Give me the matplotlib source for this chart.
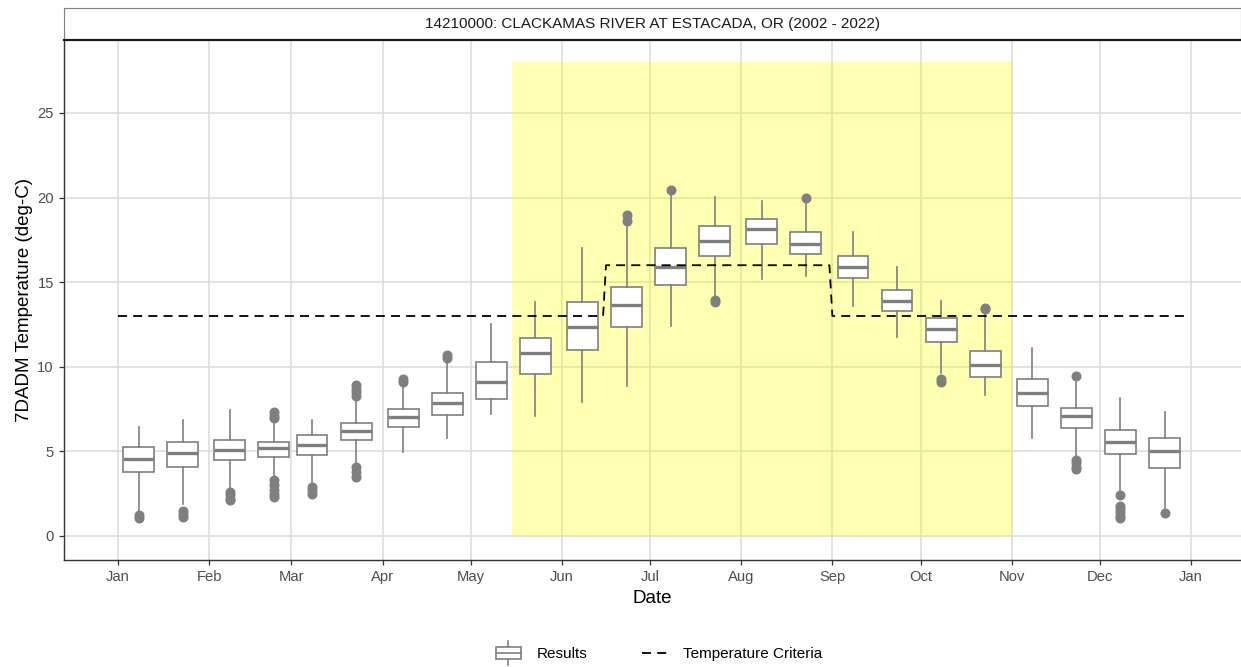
import matplotlib
matplotlib.use("Agg")
import matplotlib.pyplot as plt
import matplotlib.dates as mdates
from matplotlib.patches import Rectangle
from matplotlib.lines import Line2D
from matplotlib.legend_handler import HandlerBase
import numpy as np
import pandas as pd

plt.rcParams['font.family'] = ['Liberation Sans', 'DejaVu Sans']

# ---------------- data ----------------
title = "14210000: CLACKAMAS RIVER AT ESTACADA, OR (2002 - 2022)"
box_dates = ["2022-01-08", "2022-01-23", "2022-02-08", "2022-02-23", "2022-03-08", "2022-03-23",
             "2022-04-08", "2022-04-23", "2022-05-08", "2022-05-23", "2022-06-08", "2022-06-23",
             "2022-07-08", "2022-07-23", "2022-08-08", "2022-08-23", "2022-09-08", "2022-09-23",
             "2022-10-08", "2022-10-23", "2022-11-08", "2022-11-23", "2022-12-08", "2022-12-23"]
whis_hi = [6.46, 6.86, 7.45, 6.80, 6.86, 8.00, 8.85, 10.2, 12.53, 13.85, 17.04, 18.38,
           20.15, 20.05, 19.82, 19.66, 17.95, 15.92, 13.91, 13.16, 11.13, 9.12, 8.14, 7.35]
q3 = [5.28, 5.58, 5.67, 5.58, 5.97, 6.66, 7.49, 8.47, 10.26, 11.68, 13.85, 14.74,
      17.04, 18.34, 18.74, 17.95, 16.55, 14.52, 12.87, 10.95, 9.28, 7.58, 6.26, 5.77]
median = [4.57, 4.89, 5.08, 5.18, 5.38, 6.21, 7.02, 7.88, 9.08, 10.80, 12.37, 13.65,
          15.92, 17.45, 18.14, 17.26, 15.92, 13.89, 12.23, 10.09, 8.47, 7.11, 5.58, 5.02]
q1 = [3.76, 4.06, 4.47, 4.67, 4.77, 5.65, 6.46, 7.17, 8.08, 9.57, 10.97, 12.37,
      14.83, 16.57, 17.26, 16.65, 15.27, 13.32, 11.47, 9.38, 7.68, 6.37, 4.85, 4.02]
whis_lo = [1.50, 1.90, 2.80, 3.50, 3.10, 4.30, 4.98, 5.77, 7.20, 7.10, 7.90, 8.89,
           12.41, 14.05, 15.19, 15.37, 13.59, 11.78, 9.61, 8.33, 5.77, 4.69, 2.62, 1.63]
outliers = [[1.25, 1.05], [1.5, 1.3, 1.1], [2.6, 2.4, 2.2, 2.1],
            [7.3, 7.1, 6.95, 3.3, 3.0, 2.7, 2.5, 2.3], [2.9, 2.7, 2.5],
            [8.9, 8.7, 8.5, 8.3, 4.1, 3.8, 3.5], [9.3, 9.1], [10.7, 10.5], [], [], [],
            [18.97, 18.6], [20.45], [13.95, 13.8], [], [19.96], [], [],
            [9.3, 9.1], [13.5, 13.4], [], [9.46, 4.5, 4.3, 4.1, 3.95],
            [2.42, 1.8, 1.6, 1.4, 1.2, 1.05], [1.34]]

crit_dates = ["2022-01-01", "2022-06-15", "2022-06-16", "2022-08-31", "2022-09-01", "2022-12-31"]
crit_values = [13, 13, 16, 16, 13, 13]

season_start = "2022-05-15"
season_end = "2022-11-01"
season_top = 28

# ---------------- figure ----------------
W, H = 1241, 667
fig = plt.figure(figsize=(W / 100, H / 100), dpi=100)
ax = fig.add_axes([64 / W, 1 - 560 / H, (1241 - 64) / W, 520 / H])

grey50 = "#7F7F7F"
grid_c = "#DADADA"
dash = (0, (5, 3.4))

pos = mdates.date2num(pd.to_datetime(box_dates))
stats = []
for i in range(len(pos)):
    stats.append(dict(med=median[i], q1=q1[i], q3=q3[i], whislo=whis_lo[i],
                      whishi=whis_hi[i], fliers=np.array(outliers[i])))

ax.bxp(stats, positions=pos, widths=10.5, showcaps=False, patch_artist=True,
       boxprops=dict(facecolor="white", edgecolor=grey50, linewidth=1.2),
       medianprops=dict(color=grey50, linewidth=2.4, solid_capstyle="butt"),
       whiskerprops=dict(color=grey50, linewidth=1.2),
       flierprops=dict(marker="o", markerfacecolor=grey50, markeredgecolor=grey50,
                       markersize=6.2), manage_ticks=False, zorder=3)

cd = pd.to_datetime(crit_dates)
ax.plot(cd, crit_values, color="black", linestyle=dash, linewidth=1.3, zorder=4)

s0 = mdates.date2num(pd.Timestamp(season_start))
s1 = mdates.date2num(pd.Timestamp(season_end))
ax.add_patch(Rectangle((s0, 0), s1 - s0, season_top, facecolor="yellow", alpha=0.3,
                       edgecolor="none", zorder=2))

x0 = mdates.date2num(pd.Timestamp("2022-01-01"))
ax.set_xlim(x0 - 18.37, x0 + 382.0)
ax.set_ylim(-1.42, 29.31)

ax.xaxis.set_major_locator(mdates.MonthLocator())
ax.xaxis.set_major_formatter(mdates.DateFormatter("%b"))
ax.set_yticks([0, 5, 10, 15, 20, 25])

ax.grid(True, color=grid_c, linewidth=1.1, zorder=1)
ax.set_axisbelow(True)
for s in ["top", "right"]:
    ax.spines[s].set_visible(False)
for s in ["left", "bottom"]:
    ax.spines[s].set_color("#333333")
    ax.spines[s].set_linewidth(1.0)
ax.tick_params(axis="both", colors="#333333", labelcolor="#4D4D4D", labelsize=10.6,
               length=3.8, width=0.9, direction="out", pad=3.5)

ax.set_xlabel("Date", fontsize=13.5, color="black", labelpad=4)
ax.set_ylabel("7DADM Temperature (deg-C)", fontsize=13.5, color="black", labelpad=3)

# strip
sax = fig.add_axes([64 / W, 1 - 40 / H, (1241 - 64) / W, 32 / H])
sax.set_xticks([])
sax.set_yticks([])
sax.set_facecolor("white")
for s in ["top", "left", "right"]:
    sax.spines[s].set_color(grey50)
    sax.spines[s].set_linewidth(0.8)
sax.spines["bottom"].set_color("#1A1A1A")
sax.spines["bottom"].set_linewidth(1.6)
sax.text(0.5, 0.5, title, ha="center", va="center", fontsize=11, color="#1A1A1A",
         transform=sax.transAxes)


# legend
class BoxHandle:
    pass


class BoxHandler(HandlerBase):
    def create_artists(self, legend, orig_handle, xdescent, ydescent, width, height,
                       fontsize, trans):
        cx = width / 2 - xdescent
        bw = width * 0.95
        bh = height * 1.1
        cy = -ydescent + height / 2
        by0 = cy - bh / 2
        rect = Rectangle((cx - bw / 2, by0), bw, bh, facecolor="white", edgecolor=grey50,
                         linewidth=1.2, transform=trans)
        med = Line2D([cx - bw / 2, cx + bw / 2], [cy, cy], color=grey50,
                     linewidth=1.2, transform=trans)
        w1 = Line2D([cx, cx], [by0 + bh, by0 + bh + height * 0.6], color=grey50,
                    linewidth=1.2, transform=trans)
        w2 = Line2D([cx, cx], [by0, by0 - height * 0.6], color=grey50, linewidth=1.2,
                    transform=trans)
        return [w1, w2, rect, med]


bh_ = BoxHandle()
lh = Line2D([], [], color="black", linestyle=dash, linewidth=1.3)
fig.legend([bh_, lh], ["Results", "Temperature Criteria"],
           handler_map={BoxHandle: BoxHandler()}, loc="center",
           bbox_to_anchor=(0.531, 0.019), ncol=2, frameon=False, fontsize=11,
           handlelength=1.7, handletextpad=1.0, columnspacing=3.6)

fig.savefig("out.png", dpi=100)
